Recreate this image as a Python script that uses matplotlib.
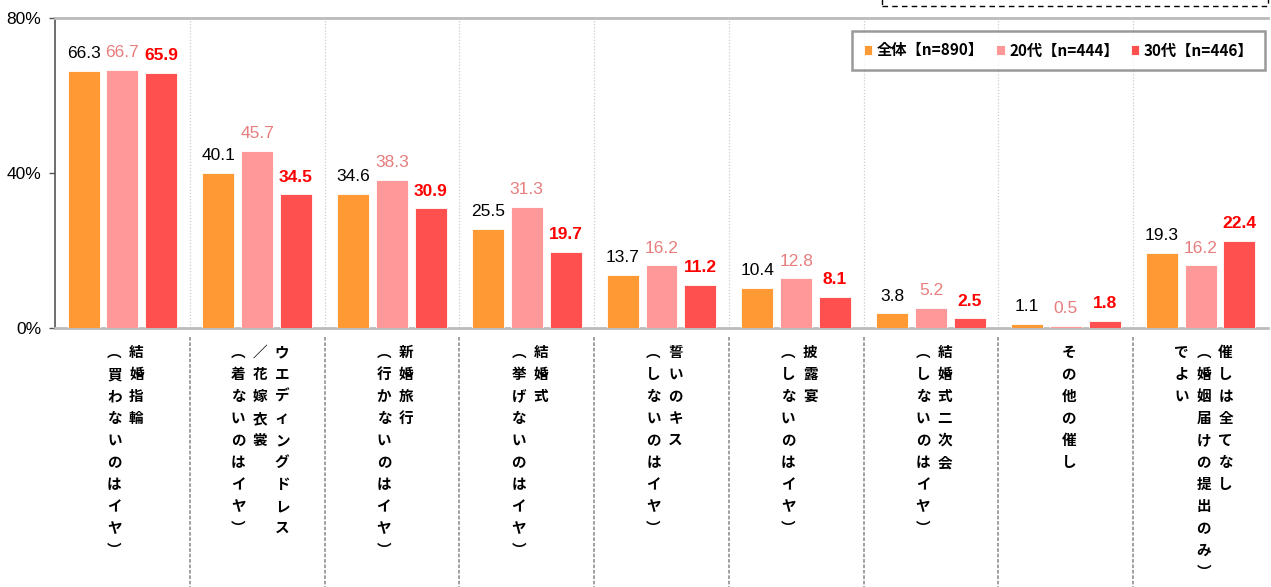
import matplotlib
matplotlib.use("Agg")
import matplotlib.pyplot as plt
from matplotlib.patches import Rectangle
import numpy as np

plt.rcParams['font.family'] = ['Liberation Sans', 'Noto Sans CJK JP', 'DejaVu Sans']

# category labels, one list of vertical columns per category (right column first)
labels = [
    ["結婚指輪", "︵買わないのはイヤ︶"],
    ["ウエディングドレス", "／花嫁衣裳", "︵着ないのはイヤ︶"],
    ["新婚旅行", "︵行かないのはイヤ︶"],
    ["結婚式", "︵挙げないのはイヤ︶"],
    ["誓いのキス", "︵しないのはイヤ︶"],
    ["披露宴", "︵しないのはイヤ︶"],
    ["結婚式二次会", "︵しないのはイヤ︶"],
    ["その他の催し"],
    ["催しは全てなし", "︵婚姻届けの提出のみ︶", "でよい"],
]
series_names = ["全体【n=890】", "20代【n=444】", "30代【n=446】"]
all_vals = [66.3, 40.1, 34.6, 25.5, 13.7, 10.4, 3.8, 1.1, 19.3]
v20 = [66.7, 45.7, 38.3, 31.3, 16.2, 12.8, 5.2, 0.5, 16.2]
v30 = [65.9, 34.5, 30.9, 19.7, 11.2, 8.1, 2.5, 1.8, 22.4]
yticks = [0, 40, 80]

bar_colors = ["#FF9933", "#FF9999", "#FF5050"]
text_colors = ["#000000", "#E87D7D", "#FF0000"]
text_weights = ["normal", "normal", "bold"]

W, H = 1271, 587
fig = plt.figure(figsize=(W / 100, H / 100), dpi=100)
ax = fig.add_axes([55 / W, 1 - 328 / H, 1213 / W, 310 / H])

x = np.arange(len(labels))
offsets = [-0.288, 0.0, 0.288]
bw = 0.237
for vals, off, c, tc, tw, name in zip([all_vals, v20, v30], offsets, bar_colors,
                                       text_colors, text_weights, series_names):
    bars = ax.bar(x + off, vals, bw, color=c, edgecolor="white", linewidth=0.6, label=name, zorder=3)
    for b, v in zip(bars, vals):
        ax.annotate(f"{v:.1f}", (b.get_x() + b.get_width() / 2, v), xytext=(0, 7),
                    textcoords="offset points", ha="center", va="bottom",
                    fontsize=12.5, color=tc, fontweight=tw)

ax.set_xlim(-0.5, len(labels) - 0.5)
ax.set_ylim(0, 80)
ax.set_yticks(yticks)
ax.set_yticklabels([f"{t}%" for t in yticks], fontsize=12.5)
ax.tick_params(axis="y", length=4, width=1, color="#555555", pad=6)
ax.set_xticks([])

ax.spines["right"].set_visible(False)
ax.spines["left"].set_color("#555555")
ax.spines["left"].set_linewidth(1.2)
ax.spines["top"].set_color("#BBBBBB")
ax.spines["top"].set_linewidth(2)
ax.spines["bottom"].set_color("#BBBBBB")
ax.spines["bottom"].set_linewidth(2)

# separators inside the plot and in the label area
for b in np.arange(0.5, len(labels) - 0.5):
    ax.axvline(b, color="#CCCCCC", linestyle=(0, (1, 1.5)), linewidth=0.9, zorder=1)
    ax.plot([b, b], [-9 / 310, -1.0], color="#999999", linestyle=(0, (2, 1)),
            linewidth=1.3, transform=ax.get_xaxis_transform(), clip_on=False)

# vertical category labels
px = 0.72  # points per pixel at 100 dpi
for i, cols in enumerate(labels):
    n = len(cols)
    for j, col in enumerate(cols):
        dx = 3 + 22 * ((n - 1) / 2 - j)
        for k, ch in enumerate(col):
            ax.annotate(ch, (i, 0), xytext=(dx * px, -(24 + 22 * k) * px),
                        textcoords="offset points", ha="center", va="center",
                        fontsize=10.5, fontweight="bold", family="Noto Sans CJK JP",
                        annotation_clip=False)

leg = ax.legend(loc="upper right", bbox_to_anchor=(1265 / W, 1 - 31 / H),
                bbox_transform=fig.transFigure, ncol=3, frameon=True, fancybox=False,
                prop={"family": "Noto Sans CJK JP", "weight": "bold", "size": 11},
                handlelength=0.55, handleheight=0.55, handletextpad=0.3, columnspacing=0.8,
                borderpad=0.75, borderaxespad=0)
leg.get_frame().set_edgecolor("#808080")
leg.get_frame().set_linewidth(1.8)

# dashed box cut at the top of the image
fig.patches.append(Rectangle((882 / W, 1 - 6 / H), (1268 - 882) / W, 20 / H,
                             transform=fig.transFigure, fill=False, edgecolor="#000000",
                             linestyle=(0, (4, 3)), linewidth=1))

fig.savefig("out.png", dpi=100)
